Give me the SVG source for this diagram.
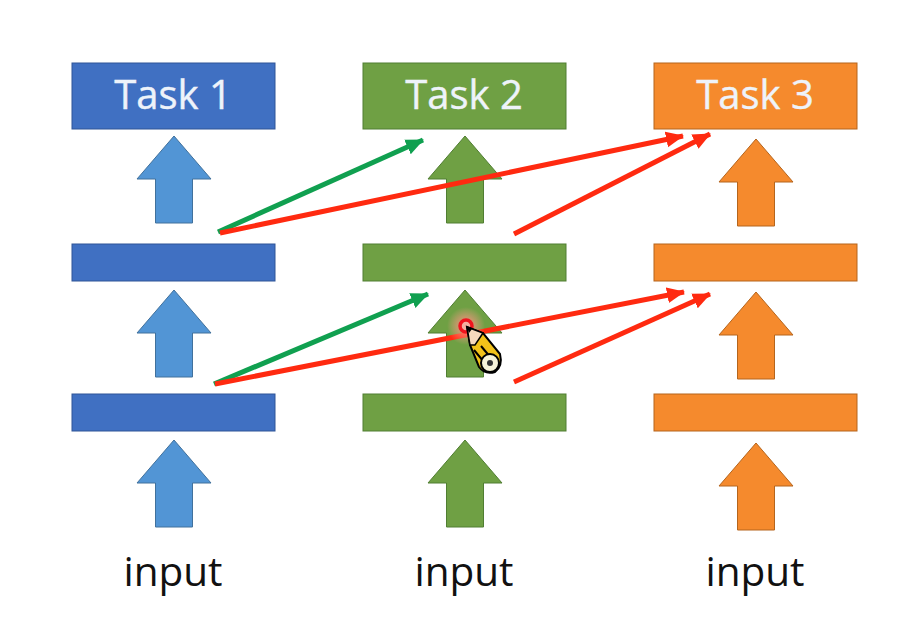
<svg xmlns="http://www.w3.org/2000/svg" width="916" height="643" viewBox="0 0 916 643">
<style>
text{font-family:"Open Sans","Noto Sans","Liberation Sans",sans-serif;text-anchor:middle}
.t{font-size:40px;fill:#eef3fa;stroke:#eef3fa;stroke-width:.4}
.i{font-size:40.500px;fill:#111}
.b{fill:#4070c2;stroke:#2f5597;stroke-width:1}
.g{fill:#6fa044;stroke:#507e32;stroke-width:1}
.o{fill:#f58a2d;stroke:#b5651d;stroke-width:1}
.ab{fill:#5295d5;stroke:#41719c;stroke-width:1}
.ln{fill:none;stroke-width:5}
</style>
<defs>
<path id="up" d="M0 0L37 43H18.500V87H-18.500V43H-37Z"/>
<marker id="hr" markerUnits="userSpaceOnUse" markerWidth="20" markerHeight="18" refX="17" refY="9" orient="auto"><path d="M0 1L18 9L0 17Z" fill="#ff2a10"/></marker>
<marker id="hg" markerUnits="userSpaceOnUse" markerWidth="20" markerHeight="18" refX="17" refY="9" orient="auto"><path d="M0 1L18 9L0 17Z" fill="#10a050"/></marker>
<radialGradient id="glow"><stop offset="0.3" stop-color="#ff8f80" stop-opacity=".75"/><stop offset="1" stop-color="#ff9f90" stop-opacity="0"/></radialGradient>
</defs>
<rect width="916" height="643" fill="#fff"/>
<g id="col1">
<g id="task1"><rect class="b" x="72" y="63" width="203" height="66"/><text class="t" x="173" y="109">Task 1</text></g>
<use id="a13" class="ab" href="#up" x="174" y="136"/>
<rect id="b12" class="b" x="72" y="244" width="203" height="37"/>
<use id="a12" class="ab" href="#up" x="174" y="290"/>
<rect id="b11" class="b" x="72" y="394" width="203" height="37"/>
<use id="a11" class="ab" href="#up" x="174" y="440"/>
<text id="in1" class="i" x="173" y="586">input</text>
</g>
<g id="col2">
<g id="task2"><rect class="g" x="363" y="63" width="203" height="66"/><text class="t" x="464" y="109">Task 2</text></g>
<use id="a23" class="g" href="#up" x="465" y="136"/>
<rect id="b22" class="g" x="363" y="244" width="203" height="37"/>
<use id="a22" class="g" href="#up" x="465" y="290"/>
<rect id="b21" class="g" x="363" y="394" width="203" height="37"/>
<use id="a21" class="g" href="#up" x="465" y="440"/>
<text id="in2" class="i" x="464" y="586">input</text>
</g>
<g id="col3">
<g id="task3"><rect class="o" x="654" y="63" width="203" height="66"/><text class="t" x="755" y="109">Task 3</text></g>
<use id="a33" class="o" href="#up" x="756" y="139"/>
<rect id="b32" class="o" x="654" y="244" width="203" height="37"/>
<use id="a32" class="o" href="#up" x="756" y="292"/>
<rect id="b31" class="o" x="654" y="394" width="203" height="37"/>
<use id="a31" class="o" href="#up" x="756" y="443"/>
<text id="in3" class="i" x="755" y="586">input</text>
</g>
<g id="connectors">
<path class="ln" stroke="#10a050" marker-end="url(#hg)" d="M218 232L423 140"/>
<path class="ln" stroke="#ff2a10" marker-end="url(#hr)" d="M220 233L683 136"/>
<path class="ln" stroke="#ff2a10" marker-end="url(#hr)" d="M514 234L710 134"/>
<path class="ln" stroke="#10a050" marker-end="url(#hg)" d="M214 384L428 294"/>
<path class="ln" stroke="#ff2a10" marker-end="url(#hr)" d="M215 384L684 292"/>
<path class="ln" stroke="#ff2a10" marker-end="url(#hr)" d="M514 382L710 294"/>
</g>
<g id="pencil">
<circle cx="466" cy="326" r="19" fill="url(#glow)"/>
<circle cx="466" cy="326" r="6" fill="#f5b0a0" stroke="#f0141e" stroke-width="3.500"/>
<path d="M467 327L483 333L500 354Q503 366 495 372Q485 375 479 367L470 345Z" fill="#f2c21a" stroke="#000" stroke-width="2"/>
<path d="M467 327L483 333L475 345L470 345Z" fill="#f6d9bd" stroke="#000" stroke-width="1.500"/>
<path d="M467 327L472 329L469 333Z" fill="#000"/>
<path d="M481 346L491 358M474 350L484 362" stroke="#000" stroke-width="2" fill="none"/>
<ellipse cx="490" cy="363" rx="9" ry="9" fill="#f6f3d8" stroke="#000" stroke-width="2"/>
<circle cx="490" cy="363" r="3" fill="#333"/>
</g>
</svg>
